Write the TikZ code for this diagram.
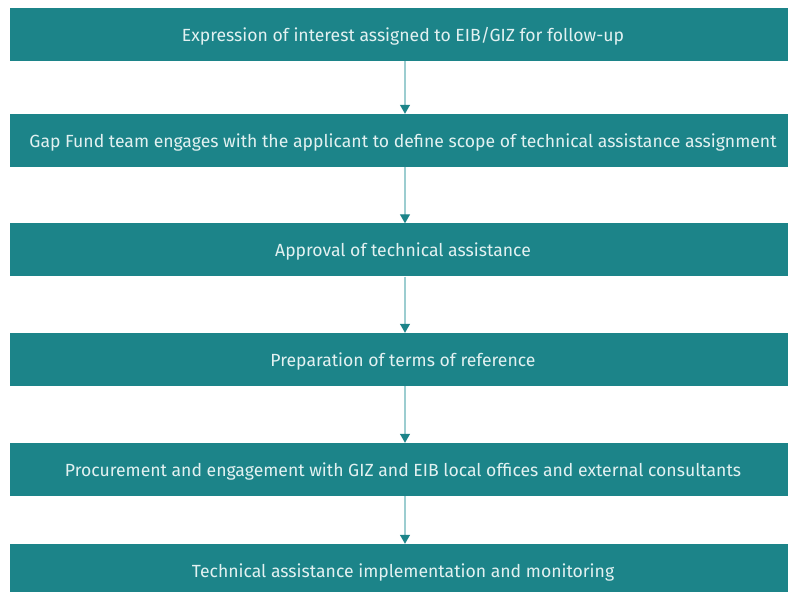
\documentclass[tikz,border=0pt]{standalone}
\usepackage{fontspec}
\setmainfont{Fira Sans}
\usetikzlibrary{arrows.meta}
\definecolor{teal1}{HTML}{1C8489}
\definecolor{teal2}{HTML}{9CCDD0}
\definecolor{pale}{HTML}{E2F1F1}
\begin{document}
\begin{tikzpicture}[x=1pt,y=1pt]

        \useasboundingbox (0,0) rectangle (788,592);

        \begin{scope}[every node/.style={fill=teal1,text=pale,minimum width=778pt,minimum height=53pt,inner sep=0pt,text height=17pt,text depth=3pt,font=\fontsize{17.6}{20}\selectfont}]
          \node (1)  at (399,557.5)  {\hspace{8pt}Expression of interest assigned to EIB/GIZ for follow-up};
          \node (2)  at (399,451.5)  {\hspace{8pt}Gap Fund team engages with the applicant to define scope of technical assistance assignment};
          \node (3)  at (399,342)    {\hspace{8pt}Approval of technical assistance};
          \node (4)  at (399,232.5)  {\hspace{8pt}Preparation of terms of reference};
          \node (5)  at (399,122.5)  {\hspace{8pt}Procurement and engagement with GIZ and EIB local offices and external consultants};
          \node (6)  at (399,21.5)   {\hspace{8pt}Technical assistance implementation and monitoring};
        \end{scope}

        \begin{scope}[every edge/.style={draw=teal2,line width=1.2pt,-{Triangle[color=teal1,width=10pt,length=9pt]}}]
          \path ([xshift=6pt]1.south) edge ([xshift=6pt]2.north);
          \path ([xshift=6pt]2.south) edge ([xshift=6pt]3.north);
          \path ([xshift=6pt]3.south) edge ([xshift=6pt]4.north);
          \path ([xshift=6pt]4.south) edge ([xshift=6pt]5.north);
          \path ([xshift=6pt]5.south) edge ([xshift=6pt]6.north);
        \end{scope}

      \end{tikzpicture}
\end{document}
